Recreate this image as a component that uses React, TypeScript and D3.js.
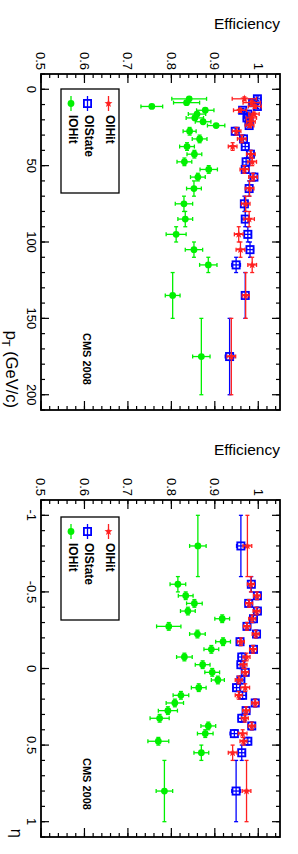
import React from "react";
import * as d3 from "d3";

// ---------- pT panel data ----------
const ptCenters = [6.25, 8.75, 11.25, 13.75, 16.25, 18.75, 21.25, 23.75, 27.5, 32.5, 37.5, 42.5, 47.5, 52.5, 57.5, 65, 75, 85, 95, 105, 115, 135, 175];
const ptHalfWidths = [1.25, 1.25, 1.25, 1.25, 1.25, 1.25, 1.25, 1.25, 2.5, 2.5, 2.5, 2.5, 2.5, 2.5, 2.5, 5, 5, 5, 5, 5, 5, 15, 25];
const ptOIHit = [0.968, 0.985, 0.992, 0.958, 0.99, 0.984, 0.983, 0.98, 0.95, 0.962, 0.941, 0.983, 0.986, 0.968, 0.988, 0.98, 0.971, 0.979, 0.955, 0.959, 0.986, 0.971, 0.938];
const ptOIHitErr = [0.028, 0.02, 0.015, 0.015, 0.012, 0.012, 0.01, 0.01, 0.01, 0.01, 0.01, 0.01, 0.01, 0.01, 0.01, 0.01, 0.01, 0.012, 0.01, 0.01, 0.01, 0.008, 0.01];
const ptOIState = [0.998, 0.987, 0.998, 0.964, 0.976, 0.974, 0.979, 0.979, 0.947, 0.966, 0.97, 0.982, 0.972, 0.97, 0.99, 0.979, 0.968, 0.97, 0.976, 0.981, 0.949, 0.97, 0.934];
const ptOIStateErr = [0.008, 0.008, 0.008, 0.008, 0.008, 0.008, 0.008, 0.008, 0.008, 0.008, 0.008, 0.008, 0.008, 0.008, 0.008, 0.008, 0.008, 0.008, 0.008, 0.008, 0.01, 0.008, 0.01];
const ptIOHit = [0.841, 0.835, 0.755, 0.878, 0.859, 0.854, 0.873, 0.903, 0.842, 0.865, 0.836, 0.853, 0.83, 0.886, 0.861, 0.852, 0.829, 0.832, 0.811, 0.852, 0.885, 0.803, 0.869];
const ptIOHitErr = [0.04, 0.03, 0.025, 0.02, 0.02, 0.02, 0.018, 0.02, 0.015, 0.017, 0.017, 0.017, 0.017, 0.02, 0.017, 0.017, 0.02, 0.017, 0.023, 0.02, 0.02, 0.017, 0.02];

// ---------- eta panel data ----------
const etaCenters = [-0.8, -0.55, -0.475, -0.425, -0.375, -0.325, -0.275, -0.225, -0.175, -0.125, -0.075, -0.025, 0.025, 0.075, 0.125, 0.175, 0.225, 0.275, 0.325, 0.375, 0.425, 0.475, 0.55, 0.8];
const etaHalfWidths = [0.2, 0.05, 0.025, 0.025, 0.025, 0.025, 0.025, 0.025, 0.025, 0.025, 0.025, 0.025, 0.025, 0.025, 0.025, 0.025, 0.025, 0.025, 0.025, 0.025, 0.025, 0.025, 0.05, 0.2];
const etaOIHit = [0.975, 0.983, 0.997, 0.979, 0.996, 0.986, 0.974, 0.994, 0.96, 0.988, 0.973, 0.966, 0.97, 0.955, 0.97, 0.955, 0.993, 0.972, 0.969, 0.985, 0.964, 0.966, 0.941, 0.973];
const etaOIHitErr = [0.01, 0.008, 0.008, 0.008, 0.008, 0.008, 0.008, 0.008, 0.008, 0.008, 0.008, 0.008, 0.008, 0.008, 0.01, 0.008, 0.008, 0.008, 0.008, 0.008, 0.01, 0.008, 0.01, 0.01];
const etaOIState = [0.96, 0.984, 0.998, 0.978, 0.998, 0.989, 0.974, 0.996, 0.958, 0.989, 0.962, 0.96, 0.97, 0.96, 0.95, 0.964, 0.993, 0.972, 0.962, 0.985, 0.945, 0.976, 0.962, 0.949];
const etaOIStateErr = [0.01, 0.008, 0.008, 0.008, 0.008, 0.008, 0.008, 0.008, 0.008, 0.008, 0.008, 0.008, 0.008, 0.008, 0.008, 0.008, 0.008, 0.008, 0.008, 0.008, 0.01, 0.008, 0.008, 0.01];
const etaIOHit = [0.861, 0.815, 0.833, 0.853, 0.838, 0.917, 0.794, 0.86, 0.919, 0.892, 0.83, 0.872, 0.894, 0.907, 0.863, 0.822, 0.808, 0.792, 0.773, 0.885, 0.878, 0.77, 0.869, 0.784];
const etaIOHitErr = [0.019, 0.018, 0.017, 0.018, 0.017, 0.017, 0.028, 0.018, 0.017, 0.017, 0.018, 0.017, 0.017, 0.015, 0.017, 0.018, 0.02, 0.022, 0.022, 0.017, 0.018, 0.024, 0.017, 0.019];

// ---------- axes ----------
const effTicks = [0.5, 0.6, 0.7, 0.8, 0.9, 1.0];
const effTickLabels = ["0.5", "0.6", "0.7", "0.8", "0.9", "1"];
const ptTicks = [0, 50, 100, 150, 200];
const ptTickLabels = ["0", "50", "100", "150", "200"];
const etaTicks = [-1, -0.5, 0, 0.5, 1];
const etaTickLabels = ["-1", "-0.5", "0", "0.5", "1"];
const seriesNames = ["OIHit", "OIState", "IOHit"];

const FONT = "'Liberation Sans', Arial, Helvetica, sans-serif";
const RED = "#ff2020";
const BLUE = "#0000ff";
const GREEN = "#00f000";

const X0 = 41, X1 = 280;

function starPath(r: number) {
  const pts: string[] = [];
  for (let i = 0; i < 10; i++) {
    const rr = i % 2 === 0 ? r : r * 0.42;
    const a = (Math.PI / 5) * i - Math.PI / 2;
    pts.push(`${(rr * Math.cos(a)).toFixed(2)},${(rr * Math.sin(a)).toFixed(2)}`);
  }
  return "M" + pts.join("L") + "Z";
}

function Marker({ kind, color }: { kind: number; color: string }) {
  if (kind === 0) return <path d={starPath(4.2)} fill={color} />;
  if (kind === 1) return <rect x={-3.6} y={-3.6} width={7.2} height={7.2} fill="none" stroke={color} strokeWidth={1.8} />;
  return <circle r={3.4} fill={color} />;
}

function Series({ centers, hw, vals, errs, x, y, color, kind }: any) {
  const cap = 2;
  return (
    <g stroke={color} strokeWidth={1.3} fill="none">
      {centers.map((c: number, i: number) => {
        const cy = y(c), cx = x(vals[i]);
        const xl = x(vals[i] - errs[i]), xr = x(vals[i] + errs[i]);
        const yt = y(c - hw[i]), yb = y(c + hw[i]);
        return (
          <g key={i}>
            <line x1={xl} x2={xr} y1={cy} y2={cy} />
            <line x1={xl} x2={xl} y1={cy - cap} y2={cy + cap} />
            <line x1={xr} x2={xr} y1={cy - cap} y2={cy + cap} />
            <line x1={cx} x2={cx} y1={yt} y2={yb} />
            <line x1={cx - cap} x2={cx + cap} y1={yt} y2={yt} />
            <line x1={cx - cap} x2={cx + cap} y1={yb} y2={yb} />
            <g transform={`translate(${cx},${cy})`} stroke="none">
              {kind === 1 ? <rect x={-3.6} y={-3.6} width={7.2} height={7.2} fill="none" stroke={color} strokeWidth={1.8} /> : <Marker kind={kind} color={color} />}
            </g>
          </g>
        );
      })}
    </g>
  );
}

function Panel(props: any) {
  const { top, bottom, domain, majors, majorLabels, minorStep, centers, hw, red, redErr, blue, blueErr, green, greenErr, cmsY, legendTop, legendBottom, title } = props;
  const x = d3.scaleLinear().domain([0.5, 1.05]).range([X0, X1]);
  const y = d3.scaleLinear().domain(domain).range([top, bottom]);
  const effMinor = d3.range(0.5, 1.0501, 0.02);
  const yMinor = d3.range(domain[0], domain[1] + minorStep / 2, minorStep);
  const legendX = [108.5, 87.5, 71];
  const legendColors = [RED, BLUE, GREEN];
  return (
    <g>
      <text x={X1} y={top - 45.5} textAnchor="end" fontSize={15.5} fontFamily={FONT} fill="#000">Efficiency</text>
      {/* frame */}
      <rect x={X0} y={top} width={X1 - X0} height={bottom - top} fill="none" stroke="#000" strokeWidth={1.8} />
      {/* efficiency ticks (top and bottom) */}
      <g stroke="#000" strokeWidth={1.2}>
        {effMinor.map((v, i) => (
          <g key={"em" + i}>
            <line x1={x(v)} x2={x(v)} y1={top} y2={top + 4} />
            <line x1={x(v)} x2={x(v)} y1={bottom} y2={bottom - 4} />
          </g>
        ))}
        {effTicks.map((v, i) => (
          <g key={"eM" + i}>
            <line x1={x(v)} x2={x(v)} y1={top} y2={top + 9} />
            <line x1={x(v)} x2={x(v)} y1={bottom} y2={bottom - 9} />
          </g>
        ))}
        {yMinor.map((v: number, i: number) => (
          <g key={"ym" + i}>
            <line x1={X0} x2={X0 + 4} y1={y(v)} y2={y(v)} />
            <line x1={X1} x2={X1 - 4} y1={y(v)} y2={y(v)} />
          </g>
        ))}
        {majors.map((v: number, i: number) => (
          <g key={"yM" + i}>
            <line x1={X0} x2={X0 + 8} y1={y(v)} y2={y(v)} />
            <line x1={X1} x2={X1 - 8} y1={y(v)} y2={y(v)} />
          </g>
        ))}
      </g>
      {/* efficiency labels */}
      {effTicks.map((v, i) => (
        <text key={"el" + i} transform={`translate(${x(v)},${top - 4}) rotate(90)`} textAnchor="end" dy="0.36em" fontSize={13} fontFamily={FONT}>{effTickLabels[i]}</text>
      ))}
      {/* y labels */}
      {majors.map((v: number, i: number) => (
        <text key={"yl" + i} transform={`translate(27,${y(v)}) rotate(90)`} textAnchor="middle" fontSize={13} fontFamily={FONT}>{majorLabels[i]}</text>
      ))}
      {title}
      <text transform={`translate(83,${cmsY}) rotate(90)`} fontSize={11} fontWeight="bold" fontFamily={FONT}>CMS 2008</text>
      {/* legend */}
      <rect x={61} y={legendTop} width={58} height={legendBottom - legendTop} fill="#fff" stroke="#000" strokeWidth={1.3} />
      {seriesNames.map((n, i) => (
        <g key={"lg" + i}>
          <line x1={legendX[i]} x2={legendX[i]} y1={legendTop + 7} y2={legendTop + 22} stroke={legendColors[i]} strokeWidth={1.3} />
          <g transform={`translate(${legendX[i]},${legendTop + 14.5})`}><Marker kind={i} color={legendColors[i]} /></g>
          <text transform={`translate(${legendX[i] - 2.5},${legendTop + 26}) rotate(90)`} fontSize={12} fontWeight="bold" fontFamily={FONT}>{n}</text>
        </g>
      ))}
      {/* data */}
      <Series centers={centers} hw={hw} vals={blue} errs={blueErr} x={x} y={y} color={BLUE} kind={1} />
      <Series centers={centers} hw={hw} vals={red} errs={redErr} x={x} y={y} color={RED} kind={0} />
      <Series centers={centers} hw={hw} vals={green} errs={greenErr} x={x} y={y} color={GREEN} kind={2} />
    </g>
  );
}

export default function App() {
  const ptTitle = (
    <text transform={`translate(6,408) rotate(90)`} textAnchor="end" fontSize={16.5} fontFamily={FONT}>
      p<tspan dy={4} fontSize={11}>T</tspan><tspan dy={-4}> (GeV/c)</tspan>
    </text>
  );
  const etaTitle = (
    <text transform={`translate(11,838) rotate(90)`} textAnchor="end" fontSize={16.5} fontFamily={FONT}>η</text>
  );
  return (
    <svg width={298} height={854} style={{ position: "absolute", left: 0, top: 0, background: "#fff" }}>
      <rect x={0} y={0} width={298} height={854} fill="#fff" />
      <Panel top={74} bottom={410} domain={[-10, 210]} majors={ptTicks} majorLabels={ptTickLabels} minorStep={10}
        centers={ptCenters} hw={ptHalfWidths} red={ptOIHit} redErr={ptOIHitErr} blue={ptOIState} blueErr={ptOIStateErr}
        green={ptIOHit} greenErr={ptIOHitErr} cmsY={333} legendTop={89} legendBottom={193} title={ptTitle} />
      <Panel top={500} bottom={837} domain={[-1.1, 1.1]} majors={etaTicks} majorLabels={etaTickLabels} minorStep={0.1}
        centers={etaCenters} hw={etaHalfWidths} red={etaOIHit} redErr={etaOIHitErr} blue={etaOIState} blueErr={etaOIStateErr}
        green={etaIOHit} greenErr={etaIOHitErr} cmsY={758} legendTop={517} legendBottom={620} title={etaTitle} />
    </svg>
  );
}
